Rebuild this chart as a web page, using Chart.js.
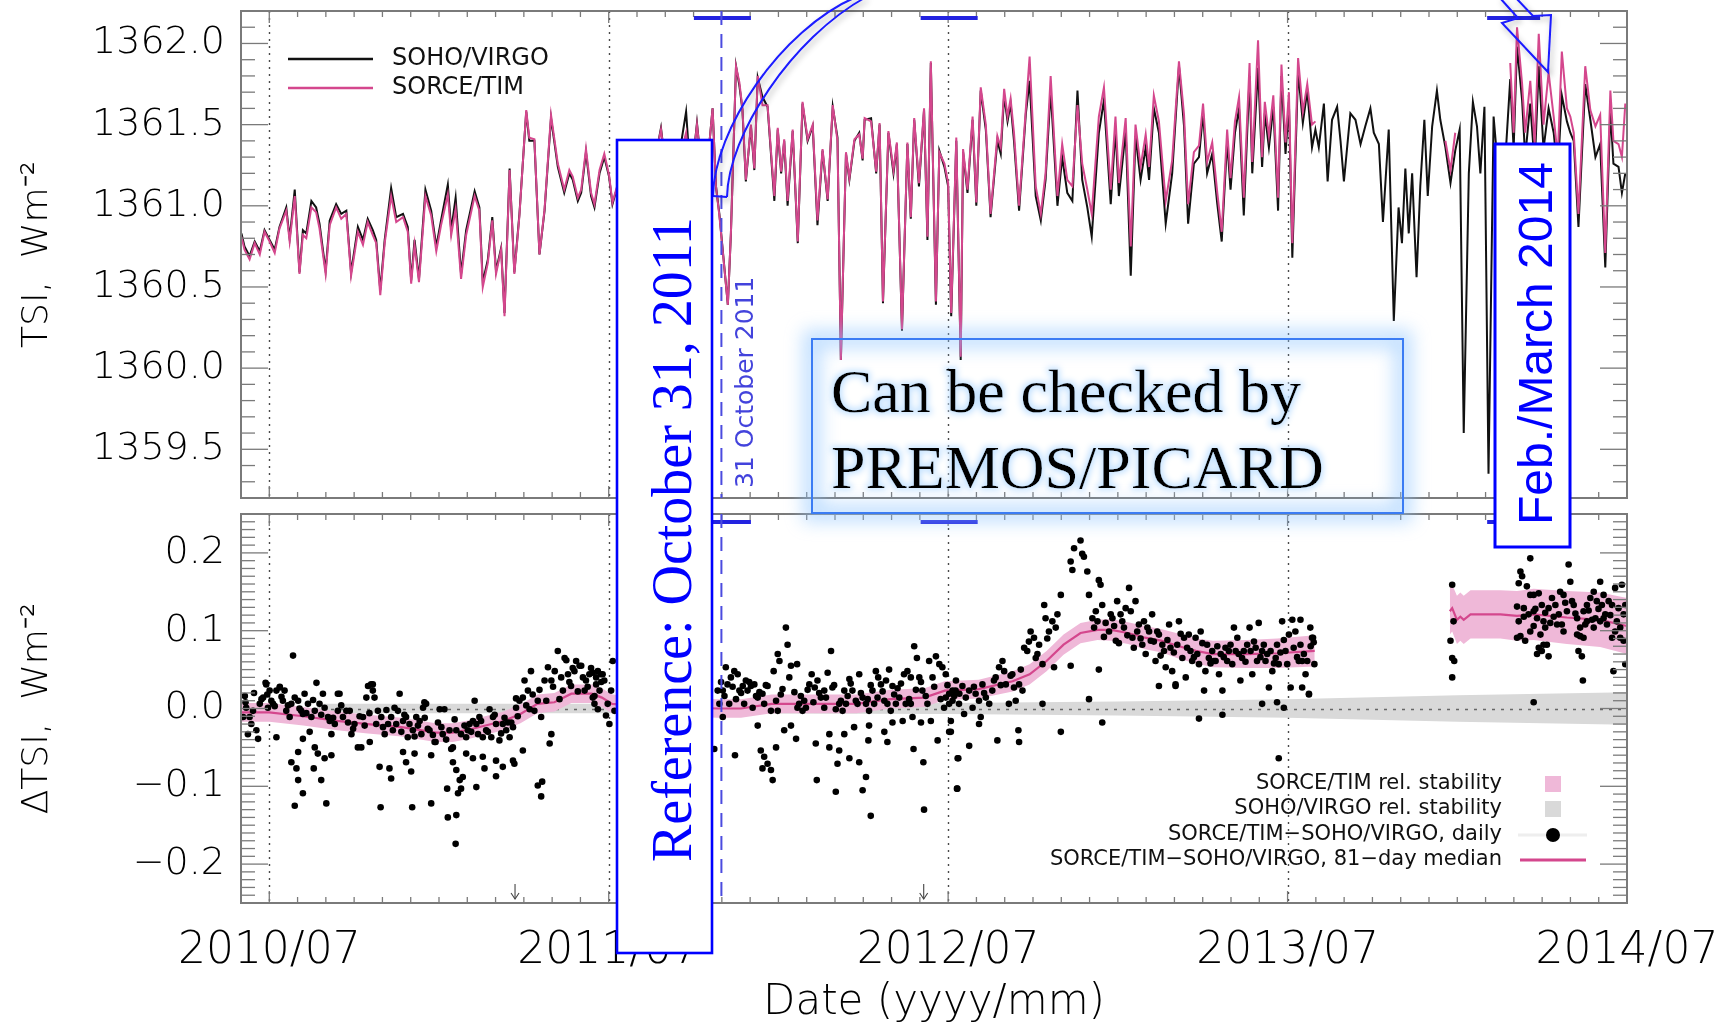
<!DOCTYPE html>
<html>
<head>
<meta charset="utf-8">
<title>TSI SOHO/VIRGO vs SORCE/TIM</title>
<script src="https://cdn.jsdelivr.net/npm/chart.js@4.4.1/dist/chart.umd.min.js"></script>
<style>
  html, body { margin: 0; padding: 0; background: #fff; }
  #wrap { position: relative; width: 1721px; height: 1024px; overflow: hidden; }
  .box { position: absolute; left: 0; width: 1721px; }
  #overlay { position: absolute; left: 0; top: 0; pointer-events: none; }
</style>
</head>
<body>
<div id="wrap">
  <div class="box" style="top:0;height:510px"><canvas id="tsi"></canvas></div>
  <div class="box" style="top:505px;height:519px"><canvas id="dtsi"></canvas></div>
  <svg id="overlay" width="1721" height="1024" viewBox="0 0 1721 1024">
    <defs>
      <filter id="blur8" x="-10%" y="-30%" width="120%" height="160%">
        <feGaussianBlur stdDeviation="9"/>
      </filter>
      <filter id="tglow" x="-5%" y="-40%" width="110%" height="180%">
        <feMorphology in="SourceAlpha" operator="dilate" radius="1.5" result="d"/>
        <feGaussianBlur in="d" stdDeviation="3" result="b"/>
        <feFlood flood-color="#c4e2ff"/>
        <feComposite in2="b" operator="in" result="g"/>
        <feMerge><feMergeNode in="g"/><feMergeNode in="SourceGraphic"/></feMerge>
      </filter>
      <filter id="shadow" x="-50%" y="-50%" width="200%" height="200%">
        <feGaussianBlur in="SourceAlpha" stdDeviation="3" result="s"/>
        <feOffset in="s" dx="2" dy="3" result="o"/>
        <feComponentTransfer in="o" result="t"><feFuncA type="linear" slope="0.35"/></feComponentTransfer>
        <feMerge><feMergeNode in="t"/><feMergeNode in="SourceGraphic"/></feMerge>
      </filter>
    </defs>

    <!-- curved arrow leaving the reference box, arriving at Feb./March 2014 -->
    <g fill="none" stroke="#1a1aff" stroke-width="2" filter="url(#shadow)">
      <path d="M713,196 C714,130 780,30 856,-3"/>
      <path d="M727,197 C728,135 792,38 866,-3"/>
      <path d="M713,196 L727,197"/>
      <path d="M1500,-2 L1518,18 L1502,23 L1548,72 L1551,15 L1533,16 L1516,-2"/>
    </g>

    <text transform="translate(753,488) rotate(-90)" font-family="DejaVu Sans, sans-serif" font-size="25" fill="#4343dc">31 October 2011</text>

    <rect x="617" y="140" width="95" height="813" fill="#fff" stroke="#0000ff" stroke-width="2.6"/>
    <text transform="translate(691,862) rotate(-90)" font-family="Liberation Serif, Times New Roman, serif" font-size="56" fill="#0000ff">Reference: October 31, 2011</text>

    <rect x="812" y="339" width="591" height="174" fill="none" stroke="#8ec5ff" stroke-width="18" opacity="0.55" filter="url(#blur8)"/>
    <rect x="812" y="339" width="591" height="174" fill="none" stroke="#3b7cf4" stroke-width="2"/>
    <g font-family="Liberation Serif, Times New Roman, serif" font-size="62" fill="#000" filter="url(#tglow)">
      <text x="831" y="412">Can be checked by</text>
      <text x="831" y="488">PREMOS/PICARD</text>
    </g>

    <rect x="1495" y="144" width="75" height="403" fill="#fff" stroke="#0000ff" stroke-width="3"/>
    <text transform="translate(1552,525) rotate(-90)" font-family="Liberation Sans, Arial, sans-serif" font-size="48" fill="#0000ff">Feb./March 2014</text>
  </svg>
</div>

<script>
// ---- axis ticks ----
const xTickValues = [2010.5, 2011.5, 2012.5, 2013.5, 2014.5];
const xTickLabels = ['2010/07', '2011/07', '2012/07', '2013/07', '2014/07'];
const tsiTickValues = [1359.5, 1360.0, 1360.5, 1361.0, 1361.5, 1362.0];
const dtsiTickValues = [-0.2, -0.1, 0.0, 0.1, 0.2];
const dtsiTickLabels = ['\u22120.2', '\u22120.1', '0.0', '0.1', '0.2'];

// ---- marked periods and dates ----
const periodStarts = [2011.751, 2012.419, 2014.088];
const periodEnds = [2011.919, 2012.587, 2014.244];
const referenceDate = 2011.832;
const arrowDates = [2011.224, 2012.428];

// ---- top panel: daily TSI (decimal year) ----
const tsiYears = [
  2010.418,2010.427,2010.442,2010.457,2010.472,2010.486,2010.501,2010.516,2010.530,2010.550,
  2010.560,2010.575,2010.589,2010.599,2010.609,2010.624,2010.638,2010.648,2010.666,2010.678,
  2010.697,2010.712,2010.727,2010.741,2010.761,2010.776,2010.790,2010.805,2010.815,2010.827,
  2010.840,2010.859,2010.874,2010.894,2010.908,2010.918,2010.928,2010.941,2010.960,2010.977,
  2010.992,2011.006,2011.026,2011.036,2011.049,2011.065,2011.080,2011.105,2011.119,2011.129,
  2011.144,2011.157,2011.168,2011.183,2011.193,2011.208,2011.222,2011.237,2011.257,2011.266,
  2011.281,2011.296,2011.311,2011.330,2011.350,2011.369,2011.384,2011.394,2011.409,2011.419,
  2011.433,2011.448,2011.458,2011.473,2011.487,2011.501,2011.511,
  2011.530,2011.546,2011.575,2011.605,2011.629,2011.654,2011.678,2011.703,2011.728,2011.742,
  2011.760,2011.782,2011.806,2011.816,2011.826,2011.851,2011.860,2011.875,2011.885,2011.894,
  2011.904,2011.919,2011.929,2011.939,2011.953,2011.968,2011.988,2011.998,2012.008,2012.017,
  2012.027,2012.042,2012.057,2012.071,2012.086,2012.101,2012.115,2012.130,2012.145,2012.160,
  2012.174,2012.184,2012.199,2012.209,2012.224,2012.238,2012.248,2012.254,2012.273,2012.288,
  2012.298,2012.308,2012.324,2012.339,2012.349,2012.364,2012.380,2012.390,2012.400,2012.414,
  2012.429,2012.439,2012.449,2012.464,2012.474,2012.489,2012.500,2012.509,2012.524,2012.537,
  2012.544,2012.557,2012.572,2012.583,2012.596,2012.611,2012.625,2012.645,2012.655,2012.665,
  2012.675,2012.684,2012.694,2012.709,2012.729,2012.740,2012.758,2012.773,2012.787,2012.802,
  2012.822,2012.836,2012.851,2012.866,2012.881,2012.895,2012.910,2012.923,2012.944,2012.959,
  2012.979,2012.993,2013.003,2013.023,2013.038,2013.052,2013.067,2013.082,2013.092,2013.106,
  2013.121,2013.141,2013.160,2013.180,2013.195,2013.207,2013.224,2013.239,2013.251,2013.263,
  2013.278,2013.293,2013.306,2013.322,2013.332,2013.345,2013.357,2013.371,2013.388,2013.396,
  2013.413,2013.425,2013.433,2013.445,2013.458,2013.472,2013.482,2013.494,2013.504,2013.514,
  2013.531,2013.545,2013.558,2013.572,2013.582,2013.592,2013.607,2013.618,2013.631,2013.646,
  2013.656,2013.666,2013.685,2013.700,2013.715,2013.729,2013.744,2013.754,2013.769,2013.781,
  2013.798,2013.813,2013.827,2013.837,2013.847,2013.857,2013.867,2013.880,2013.891,2013.903,
  2013.913,2013.926,2013.940,2013.950,2013.965,2013.980,2013.994,2014.007,2014.019,2014.034,
  2014.046,2014.058,2014.068,2014.080,2014.092,2014.107,2014.127,2014.142,2014.156,2014.166,
  2014.176,2014.191,2014.200,2014.215,2014.228,2014.240,2014.254,2014.269,2014.284,2014.296,
  2014.308,2014.323,2014.333,2014.343,2014.357,2014.377,2014.392,2014.407,2014.421,2014.436,
  2014.451,2014.460,2014.475,2014.485,2014.495
];
const virgoTSI = [
  1360.83,1360.75,1360.69,1360.78,1360.72,1360.85,1360.79,1360.73,1360.87,1360.99,
  1360.80,1361.10,1360.59,1360.85,1360.83,1361.03,1360.99,1360.89,1360.60,1360.91,
  1361.01,1360.95,1360.97,1360.59,1360.87,1360.79,1360.92,1360.85,1360.79,1360.48,
  1360.79,1361.11,1360.93,1360.95,1360.87,1360.54,1360.79,1360.55,1361.10,1360.97,
  1360.75,1360.91,1361.13,1360.85,1361.05,1360.58,1360.85,1361.09,1360.99,1360.53,
  1360.67,1360.93,1360.60,1360.74,1360.34,1361.23,1360.59,1360.95,1361.58,1361.40,
  1361.40,1360.70,1360.97,1361.54,1361.24,1361.08,1361.20,1361.16,1361.03,1361.08,
  1361.33,1361.06,1360.99,1361.20,1361.30,1361.18,1361.01,
  1361.15,1361.05,1361.25,1361.00,1361.20,1361.48,1361.05,1361.25,1361.58,1361.15,
  1361.51,1361.05,1361.60,1361.12,1360.95,1360.39,1360.83,1361.86,1361.74,1361.59,
  1361.15,1361.49,1361.22,1361.79,1361.67,1361.61,1361.03,1361.47,1361.20,1361.40,
  1361.00,1361.46,1360.77,1361.63,1361.40,1361.49,1360.88,1361.34,1361.03,1361.61,
  1361.42,1360.05,1361.32,1361.16,1361.40,1361.45,1361.28,1361.53,1361.54,1361.20,
  1361.50,1360.40,1361.45,1361.20,1361.38,1360.23,1361.38,1360.92,1361.53,1361.12,
  1361.59,1360.79,1361.88,1360.39,1361.34,1361.24,1361.12,1360.32,1361.40,1360.05,
  1361.33,1361.08,1361.53,1361.00,1361.71,1361.47,1360.93,1361.40,1361.32,1361.68,
  1361.52,1361.63,1361.40,1360.97,1361.57,1361.77,1361.06,1360.91,1361.16,1361.71,
  1361.00,1361.30,1361.08,1361.03,1361.71,1361.16,1360.99,1360.81,1361.45,1361.65,
  1361.01,1361.47,1361.06,1361.46,1360.57,1361.43,1361.16,1361.36,1361.16,1361.60,
  1361.45,1360.89,1361.20,1361.86,1361.49,1360.89,1361.26,1361.30,1361.57,1361.20,
  1361.32,1361.01,1360.78,1361.40,1361.10,1361.45,1361.60,1360.94,1361.80,1361.20,
  1361.85,1361.24,1361.57,1361.36,1361.61,1360.97,1361.80,1361.32,1361.63,1360.68,
  1361.83,1361.51,1361.71,1361.36,1361.47,1361.36,1361.63,1361.15,1361.53,1361.61,
  1361.40,1361.15,1361.57,1361.53,1361.38,1361.49,1361.60,1361.45,1361.38,1360.90,
  1361.47,1360.29,1360.99,1360.77,1361.23,1360.83,1361.20,1360.56,1361.12,1361.53,
  1361.06,1361.49,1361.71,1361.53,1361.36,1361.14,1361.34,1361.47,1359.60,1361.20,
  1361.64,1361.49,1361.20,1361.61,1359.35,1361.55,1361.05,1361.30,1361.78,1361.35,
  1361.98,1361.65,1361.30,1361.63,1361.25,1361.86,1361.35,1361.60,1361.45,1361.20,
  1361.68,1361.52,1361.45,1361.40,1360.87,1361.75,1361.53,1361.30,1361.38,1360.62,
  1361.59,1361.26,1361.24,1361.08,1361.20
];
const timTSI = [
  1360.81,1360.73,1360.67,1360.77,1360.70,1360.84,1360.78,1360.71,1360.86,1360.97,
  1360.78,1361.06,1360.58,1360.82,1360.80,1360.99,1360.96,1360.86,1360.58,1360.88,
  1360.99,1360.92,1360.95,1360.57,1360.84,1360.76,1360.90,1360.82,1360.77,1360.45,
  1360.77,1361.06,1360.90,1360.93,1360.84,1360.52,1360.76,1360.53,1361.06,1360.94,
  1360.72,1360.88,1361.07,1360.82,1360.98,1360.55,1360.82,1361.06,1360.97,1360.50,
  1360.65,1360.91,1360.58,1360.73,1360.32,1361.22,1360.58,1360.94,1361.59,1361.42,
  1361.41,1360.70,1360.98,1361.56,1361.26,1361.10,1361.22,1361.18,1361.05,1361.10,
  1361.35,1361.08,1361.01,1361.22,1361.32,1361.19,1361.02,
  1361.16,1361.06,1361.26,1361.01,1361.21,1361.47,1361.06,1361.25,1361.45,1361.15,
  1361.50,1361.05,1361.60,1361.12,1360.94,1360.39,1360.83,1361.86,1361.76,1361.60,
  1361.16,1361.50,1361.23,1361.80,1361.62,1361.62,1361.06,1361.48,1361.21,1361.41,
  1361.03,1361.47,1360.78,1361.64,1361.41,1361.50,1360.91,1361.35,1361.04,1361.62,
  1361.40,1360.05,1361.33,1361.17,1361.41,1361.44,1361.29,1361.54,1361.52,1361.21,
  1361.51,1360.41,1361.46,1361.22,1361.39,1360.24,1361.39,1360.93,1361.54,1361.14,
  1361.60,1360.81,1361.89,1360.41,1361.33,1361.26,1361.14,1360.34,1361.42,1360.07,
  1361.35,1361.10,1361.55,1361.02,1361.73,1361.50,1360.95,1361.43,1361.36,1361.72,
  1361.55,1361.66,1361.45,1361.00,1361.60,1361.92,1361.12,1360.95,1361.20,1361.80,
  1361.06,1361.38,1361.16,1361.12,1361.62,1361.26,1361.10,1360.95,1361.55,1361.73,
  1361.10,1361.55,1361.14,1361.54,1360.75,1361.50,1361.24,1361.44,1361.24,1361.68,
  1361.52,1361.03,1361.28,1361.89,1361.56,1361.01,1361.33,1361.37,1361.63,1361.27,
  1361.39,1361.08,1360.84,1361.47,1361.17,1361.52,1361.67,1361.05,1361.88,1361.27,
  1362.02,1361.30,1361.64,1361.43,1361.68,1361.05,1361.87,1361.39,1361.70,1360.77,
  1361.91,1361.58,1361.75,1361.50,1361.52,null,null,null,null,null,
  null,null,null,null,null,null,null,null,null,null,
  null,null,null,null,null,null,null,null,null,null,
  null,null,null,null,1361.40,1361.22,1361.45,null,null,null,
  null,null,null,null,null,null,null,null,1361.88,1361.45,
  1362.10,1361.75,1361.45,1361.77,1361.38,1362.06,1361.50,1361.82,1361.55,1361.30,
  1361.95,1361.60,1361.55,1361.45,1360.95,1361.86,1361.59,1361.49,1361.56,1360.71,
  1361.71,1361.40,1361.38,1361.30,1361.63
];

// ---- bottom panel: SORCE/TIM - SOHO/VIRGO, daily ----
const diffYears = [
  2010.570,2010.428,2010.432,2010.442,2010.447,2010.462,2010.467,2010.437,2010.482,2010.491,
  2010.501,2010.511,2010.521,2010.531,2010.540,2010.550,2010.560,2010.565,2010.575,2010.585,
  2010.594,2010.604,2010.614,2010.624,2010.634,2010.639,2010.648,2010.658,2010.663,2010.673,
  2010.683,2010.693,2010.702,2010.707,2010.717,2010.727,2010.742,2010.751,2010.761,2010.771,
  2010.776,2010.786,2010.791,2010.800,2010.805,2010.810,2010.820,2010.830,2010.840,2010.850,
  2010.859,2010.869,2010.879,2010.884,2010.894,2010.903,2010.913,2010.923,2010.933,2010.943,
  2010.953,2010.962,2010.972,2010.987,2011.002,2011.016,2011.031,2011.041,2011.051,2011.065,
  2011.080,2011.090,2011.100,2011.105,2011.110,2011.119,2011.129,2011.139,2011.149,2011.159,
  2011.168,2011.178,2011.188,2011.198,2011.208,2011.218,2011.227,2011.237,2011.247,2011.252,
  2011.262,2011.271,2011.281,2011.291,2011.301,2011.311,2011.321,2011.331,2011.341,2011.350,
  2011.360,2011.370,2011.380,2011.389,2011.399,2011.404,2011.414,2011.424,2011.433,2011.443,
  2011.453,2011.463,2011.473,2011.482,
  2010.565,2010.580,2010.585,2010.585,2010.599,2010.575,2010.631,2010.634,2010.643,2010.653,
  2010.663,2010.668,2010.683,2010.521,2010.599,2010.619,2010.796,2010.825,2010.854,2010.859,
  2010.828,2010.894,2010.903,2010.918,2010.921,2010.928,2010.977,2010.977,2010.990,2011.024,
  2011.036,2011.041,2011.051,2011.061,2011.070,2011.026,2011.051,2011.049,2011.056,2011.065,
  2011.080,2011.110,2011.100,2011.129,2011.134,2011.168,2011.168,2011.188,2011.218,2011.222,
  2011.247,2011.291,2011.301,2011.304,2011.326,2011.331,
  2010.489,2010.531,2010.702,2010.805,2010.957,2011.227,2011.375,2011.419,
  2010.423,2010.452,2010.472,2010.496,2010.506,2010.545,2010.599,2010.678,2010.737,2010.815,
  2010.864,2010.908,2010.948,2011.011,2011.085,2011.115,2011.154,2011.203,2011.267,2011.316,
  2011.365,2011.429,2011.468,
  2010.430,2010.455,2010.477,2010.494,2010.516,2010.536,2010.555,2010.589,2010.609,2010.629,
  2010.653,2010.688,2010.712,2010.732,2010.747,2010.766,2010.781,2010.795,2010.835,2010.845,
  2010.874,2010.889,2010.898,2010.928,2010.938,2010.958,2010.967,2010.982,2010.997,2011.007,
  2011.021,2011.046,2011.075,2011.095,2011.124,2011.144,2011.164,2011.183,2011.193,2011.213,
  2011.232,2011.257,2011.276,2011.296,2011.336,2011.355,2011.384,2011.394,2011.409,2011.438,
  2011.448,2011.458,2011.478,
  2011.453,2011.463,2011.477,2011.487,2011.497,2011.507,2011.512,2011.458,2011.468,2011.492,
  2011.502,2011.517,2011.821,2011.826,2011.836,2011.845,2011.850,2011.860,2011.870,2011.880,
  2011.885,2011.895,2011.904,2011.909,2011.919,2011.929,2011.939,2011.944,2011.953,2011.958,
  2011.968,2011.978,2011.986,2011.993,2011.998,2012.003,2012.012,2012.022,2012.027,2012.037,
  2012.047,2012.055,2012.061,2012.071,2012.081,2012.091,2012.098,2012.107,2012.115,2012.125,
  2012.135,2012.145,2012.155,2012.159,2012.169,2012.179,2012.189,2012.199,2012.209,2012.218,
  2012.228,2012.238,2012.248,2012.258,2012.267,2012.277,2012.287,2012.294,2012.302,2012.312,
  2012.321,2012.326,2012.336,2012.346,2012.356,2012.370,2012.380,2012.390,2012.400,2012.408,
  2012.415,2012.424,2012.434,2012.444,2012.454,2012.464,2012.474,2012.483,2012.493,2012.503,
  2012.513,2012.523,2012.533,
  2011.811,2011.872,2011.939,2011.948,2011.958,2011.968,2011.978,2011.983,2011.953,2011.993,
  2012.017,2012.037,2012.052,2012.113,2012.110,2012.150,2012.150,2012.169,2012.174,2012.179,
  2012.194,2012.209,2012.223,2012.238,2012.248,2012.258,2012.265,2012.272,2012.267,2012.312,
  2012.321,2012.336,2012.366,2012.395,2012.398,2012.420,2012.427,2012.429,2012.449,2012.469,
  2012.503,2012.528,2012.526,2012.508,2012.390,
  2011.836,2011.855,2011.899,2011.924,2011.998,2012.056,2012.076,2012.135,2012.184,2012.194,
  2012.233,2012.282,2012.331,2012.375,2012.439,2012.488,
  2011.831,2011.841,2011.865,2011.875,2011.890,2011.914,2011.934,2011.963,2012.007,2012.032,
  2012.066,2012.086,2012.103,2012.120,2012.140,2012.164,2012.204,2012.213,2012.243,2012.263,
  2012.272,2012.292,2012.307,2012.317,2012.341,2012.351,2012.361,2012.385,2012.405,2012.420,
  2012.459,2012.478,2012.498,2012.518,
  2012.493,2012.503,2012.513,2012.522,2012.532,2012.542,2012.547,2012.552,2012.562,2012.572,
  2012.581,2012.591,2012.596,2012.601,2012.611,2012.621,2012.630,2012.640,2012.650,2012.660,
  2012.665,2012.670,2012.679,2012.689,2012.694,2012.699,2012.709,2012.719,2012.724,2012.733,
  2012.743,2012.753,2012.758,2012.768,2012.778,2012.783,2012.787,2012.797,2012.807,2012.812,
  2012.822,2012.832,2012.861,2012.866,2012.871,2012.890,2012.895,2012.900,2012.910,2012.915,
  2012.925,2012.935,2012.944,2012.949,2012.954,2012.964,2012.974,2012.984,2012.994,2012.998,
  2013.008,2013.023,2013.033,2013.043,2013.052,2013.062,2013.072,2013.082,2013.092,2013.101,
  2013.111,2013.121,2013.131,2013.141,2013.151,2013.160,2013.170,2013.180,2013.190,2013.200,
  2013.209,2013.219,2013.229,2013.239,2013.244,2013.254,2013.258,2013.268,2013.278,2013.288,
  2013.298,2013.308,2013.317,2013.327,2013.337,2013.342,2013.352,2013.361,2013.371,2013.381,
  2013.388,2013.396,2013.406,2013.415,2013.425,2013.435,2013.445,2013.455,2013.465,2013.474,
  2013.484,2013.494,2013.504,2013.514,2013.523,2013.533,2013.543,2013.553,2013.563,2013.572,
  2012.508,2012.530,2012.527,2012.562,2012.591,2012.645,2012.707,2012.709,2012.778,2012.832,
  2012.861,2012.915,2012.944,2012.954,2013.121,2013.170,2013.239,2013.308,2013.425,2013.469,
  2013.474,2013.489,2013.509,
  2012.940,2012.979,2013.018,2013.038,2013.057,2013.077,2013.097,2013.116,2013.136,2013.155,
  2013.175,2013.195,2013.214,2013.234,2013.263,2013.283,2013.303,2013.322,2013.347,2013.366,
  2013.391,2013.410,2013.430,2013.450,2013.469,2013.499,2013.518,2013.538,2013.558,
  2012.576,2012.606,2012.635,2012.655,2012.684,2012.714,2012.738,2012.763,2012.792,2012.817,
  2012.930,2012.959,2012.989,2013.003,2013.013,2013.028,2013.047,2013.067,2013.087,2013.106,
  2013.126,2013.146,2013.165,2013.185,2013.204,2013.224,2013.249,2013.273,2013.293,2013.312,
  2013.332,2013.356,2013.376,2013.401,2013.420,2013.440,2013.460,2013.479,2013.489,2013.528,
  2013.548,2013.568,
  2013.538,2013.543,2013.567,2013.575,2013.577,2013.579,2013.563,2013.985,2013.989,2013.980,
  2013.985,2013.991,2013.985,2014.215,2014.186,2014.191,2014.181,2014.205,2014.225,2014.240,
  2014.215,2014.176,2014.196,2014.210,2014.225,2014.235,2014.249,2014.259,2014.269,2014.279,
  2014.289,2014.299,2014.303,2014.313,2014.323,2014.328,2014.333,2014.338,2014.343,2014.353,
  2014.362,2014.372,2014.377,2014.382,2014.392,2014.402,2014.407,2014.411,2014.421,2014.426,
  2014.431,2014.436,2014.446,2014.456,2014.465,2014.475,2014.485,2014.490,2014.495,2014.176,
  2014.186,2014.200,2014.215,2014.225,2014.240,2014.249,2014.264,2014.269,2014.245,2014.259,
  2014.274,2014.294,2014.313,2014.353,2014.362,2014.372,2014.357,2014.367,2014.382,2014.402,
  2014.421,2014.431,2014.441,2014.456,2014.465,2014.480,2014.490,2014.460,2014.370,2014.225,
  2014.235,2014.254,2014.495,
  2014.181,2014.196,2014.230,2014.254,2014.284,2014.308,2014.318,2014.348,2014.387,2014.397,
  2014.416,2014.451,2014.470,2014.480
];
const diffValues = [
  0.068,0.016,0.001,-0.011,-0.020,-0.028,-0.039,-0.033,0.014,0.031,
  0.023,0.006,0.023,0.027,0.010,-0.003,-0.011,0.006,0.014,0.010,
  -0.003,0.019,0.006,-0.011,-0.003,0.033,0.006,0.019,0.001,-0.011,
  -0.033,-0.020,-0.003,0.019,-0.011,-0.003,-0.033,-0.020,-0.050,-0.050,
  -0.011,0.014,0.029,0.031,0.023,0.014,-0.003,-0.011,-0.033,-0.020,
  -0.011,0.001,-0.003,0.019,-0.016,-0.011,-0.020,-0.028,-0.011,-0.016,
  0.001,0.006,-0.028,-0.043,-0.001,-0.001,-0.028,-0.050,-0.028,-0.033,
  -0.037,-0.020,-0.016,0.010,-0.020,-0.011,-0.037,-0.028,-0.001,-0.011,
  -0.020,-0.041,-0.020,-0.028,-0.037,-0.024,0.001,0.010,0.014,0.036,
  0.023,0.048,-0.003,0.010,-0.011,0.036,0.053,0.036,0.048,0.074,
  0.040,0.065,0.044,0.029,0.048,0.061,0.055,0.040,0.036,0.044,
  0.014,0.031,0.023,0.044,
  -0.069,-0.077,-0.056,-0.092,-0.109,-0.125,-0.077,-0.050,-0.058,-0.092,
  -0.064,-0.122,-0.060,-0.037,-0.039,-0.030,-0.043,-0.075,-0.077,-0.090,
  -0.127,-0.056,-0.069,-0.081,-0.127,-0.058,-0.122,-0.060,-0.043,-0.103,
  -0.052,-0.069,-0.079,-0.092,-0.088,-0.140,-0.137,-0.174,-0.109,-0.103,
  -0.058,-0.101,-0.064,-0.062,-0.077,-0.067,-0.087,-0.075,-0.067,-0.071,
  -0.054,-0.099,-0.113,-0.094,-0.045,-0.033,
  0.033,0.028,0.019,0.031,0.008,0.013,0.062,0.055,
  -0.011,-0.003,0.006,0.001,0.010,0.023,-0.007,-0.016,-0.003,-0.020,
  -0.028,-0.037,-0.033,-0.033,-0.028,-0.033,-0.037,-0.018,-0.001,0.010,
  0.023,0.023,0.048,
  0.008,0.020,0.012,0.018,0.003,0.015,0.004,0.000,-0.006,0.011,
  -0.008,-0.012,0.004,-0.018,-0.026,-0.010,-0.022,-0.006,-0.024,-0.002,
  -0.020,-0.030,-0.008,-0.036,-0.022,-0.012,-0.026,-0.034,-0.018,-0.024,
  -0.040,-0.014,-0.022,-0.030,-0.016,-0.030,-0.008,-0.032,-0.012,-0.018,
  -0.010,0.004,0.018,0.024,0.028,0.012,0.034,0.052,0.022,0.028,
  0.052,0.016,0.034,
  0.046,0.040,0.044,0.036,0.006,0.023,0.061,0.006,-0.001,-0.009,
  -0.020,-0.003,0.023,0.006,-0.011,0.053,0.031,0.040,0.048,0.044,
  0.023,0.029,0.036,0.023,0.029,0.031,0.014,0.021,0.019,0.006,
  0.029,-0.003,0.048,0.010,0.070,0.061,0.025,0.104,0.082,0.055,
  0.021,0.057,0.006,-0.003,0.001,0.031,0.044,0.027,0.036,0.014,
  0.023,0.046,0.074,0.027,-0.001,0.006,-0.003,0.006,0.038,0.023,
  0.010,0.044,0.014,0.006,-0.003,0.023,0.048,0.040,0.031,0.010,
  0.006,0.050,0.029,0.006,0.014,0.044,0.048,0.040,0.080,0.065,
  0.040,0.023,0.016,0.061,0.040,0.067,0.057,0.053,0.014,0.006,
  0.023,0.036,0.019,
  -0.052,-0.060,-0.022,-0.054,-0.062,-0.071,-0.079,-0.092,-0.077,-0.050,
  -0.028,-0.022,-0.039,-0.092,-0.045,-0.033,-0.050,-0.107,-0.071,-0.054,
  -0.033,-0.064,-0.024,-0.069,-0.105,-0.088,-0.041,-0.138,-0.022,-0.030,
  -0.043,-0.018,-0.016,-0.011,-0.052,-0.018,-0.069,-0.130,-0.016,-0.041,
  -0.030,-0.064,-0.103,-0.016,0.006,
  0.023,0.006,0.006,0.001,-0.003,0.001,0.010,0.001,0.010,0.023,
  0.006,0.006,-0.003,0.006,0.006,0.001,
  0.034,0.016,0.028,0.012,0.020,0.034,0.016,0.030,0.018,0.040,
  0.016,0.024,0.008,0.020,0.014,0.030,0.016,0.032,0.020,0.012,
  0.030,0.014,0.022,0.036,0.018,0.026,0.032,0.012,0.024,0.034,
  0.028,0.012,0.030,0.016,
  0.044,0.019,0.010,0.023,0.006,0.029,-0.007,0.014,0.023,0.001,
  0.019,0.010,-0.011,0.031,0.014,0.006,0.023,0.040,0.053,0.061,
  0.048,0.031,0.006,0.044,0.027,0.010,0.031,0.023,0.078,0.074,
  0.099,0.091,0.065,0.082,0.057,0.133,0.116,0.099,0.112,0.053,
  0.121,0.146,0.189,0.178,0.206,0.216,0.199,0.195,0.176,0.146,
  0.116,0.125,0.165,0.159,0.133,0.110,0.099,0.116,0.087,0.138,
  0.121,0.129,0.155,0.091,0.138,0.108,0.082,0.070,0.099,0.121,
  0.061,0.095,0.082,0.053,0.108,0.048,0.031,0.112,0.065,0.040,
  0.095,0.061,0.091,0.057,0.099,0.023,0.048,0.065,0.074,0.061,
  0.044,0.023,0.078,0.074,0.057,0.104,0.091,0.036,0.074,0.082,
  0.104,0.044,0.078,0.110,0.074,0.061,0.027,0.048,0.065,0.057,
  0.112,0.074,0.095,0.114,0.099,0.061,0.027,0.044,0.019,0.091,
  -0.030,-0.064,-0.103,-0.048,-0.020,-0.041,-0.028,-0.043,0.006,-0.030,
  0.055,0.012,0.050,-0.018,0.029,0.029,-0.013,-0.008,0.006,0.008,
  -0.064,0.001,0.027,
  0.112,0.121,0.104,0.125,0.099,0.112,0.087,0.099,0.074,0.078,
  0.082,0.091,0.074,0.070,0.082,0.061,0.070,0.061,0.074,0.065,
  0.074,0.061,0.082,0.074,0.082,0.057,0.078,0.082,0.061,
  0.028,0.020,0.036,0.030,0.042,0.050,0.086,0.070,0.090,0.104,
  0.104,0.092,0.106,0.084,0.112,0.094,0.078,0.090,0.104,0.086,
  0.068,0.088,0.072,0.096,0.078,0.066,0.084,0.058,0.080,0.066,
  0.082,0.070,0.060,0.086,0.066,0.070,0.058,0.072,0.088,0.066,
  0.070,0.080,
  0.114,0.061,0.104,0.091,0.085,0.057,0.018,0.159,0.112,0.087,
  0.065,0.061,0.040,0.193,0.176,0.170,0.161,0.157,0.146,0.148,
  0.146,0.131,0.129,0.121,0.125,0.116,0.133,0.123,0.129,0.142,
  0.133,0.121,0.150,0.146,0.125,0.185,0.163,0.138,0.133,0.116,
  0.104,0.125,0.108,0.133,0.142,0.150,0.116,0.138,0.163,0.133,
  0.146,0.121,0.138,0.133,0.155,0.129,0.159,0.121,0.133,0.091,
  0.093,0.087,0.099,0.106,0.078,0.074,0.082,0.067,0.095,0.104,
  0.110,0.108,0.099,0.095,0.093,0.091,0.074,0.067,0.112,0.104,
  0.112,0.116,0.108,0.091,0.099,0.091,0.087,0.048,0.036,0.008,
  0.070,0.082,0.057,
  0.112,0.118,0.128,0.112,0.118,0.108,0.136,0.122,0.126,0.114,
  0.128,0.120,0.112,0.104
];

// ---- bottom panel: 81-day median and relative stability bands ----
const medianYears = [
  2010.418,2010.50,2010.60,2010.70,2010.79,2010.89,2010.99,2011.04,2011.09,2011.19,
  2011.24,2011.29,2011.34,2011.39,2011.45,2011.48,2011.51,2011.60,2011.70,2011.82,
  2011.89,2011.98,2012.08,2012.13,2012.23,2012.33,2012.43,2012.49,2012.59,2012.69,
  2012.74,2012.79,2012.84,2012.89,2012.94,2012.98,2013.03,2013.08,2013.13,2013.18,
  2013.23,2013.28,2013.38,2013.47,2013.58,2013.78,2013.978,2013.985,2013.999,2014.009,
  2014.019,2014.039,2014.127,2014.176,2014.225,2014.323,2014.421,2014.50
];
const medianValues = [
  -0.005,-0.005,-0.010,-0.016,-0.020,-0.024,-0.031,-0.031,-0.027,-0.016,
  -0.007,0.006,0.008,0.019,0.019,0.014,0.006,0.003,0.002,0.000,
  0.000,0.006,0.006,0.006,0.006,0.012,0.014,0.023,0.025,0.035,
  0.044,0.061,0.082,0.097,0.101,0.101,0.097,0.091,0.087,0.080,
  0.074,0.070,0.070,0.071,0.074,null,0.125,0.129,0.114,0.118,
  0.114,0.121,0.121,0.119,0.121,0.117,0.114,0.106
];
const timBandHalf = [
  0.012,0.012,0.012,0.012,0.012,0.012,0.012,0.012,0.012,0.012,
  0.012,0.012,0.012,0.012,0.012,0.012,0.012,0.012,0.012,0.012,
  0.012,0.012,0.012,0.012,0.012,0.012,0.012,0.012,0.012,0.013,
  0.013,0.013,0.013,0.013,0.013,0.014,0.014,0.015,0.015,0.016,
  0.016,0.017,0.018,0.019,0.020,null,0.030,0.030,0.031,0.031,
  0.031,0.031,0.031,0.032,0.033,0.034,0.035,0.036
];
const virgoBandYears = [2010.64, 2011.0, 2011.5, 2012.0, 2012.5, 2013.0, 2013.5, 2014.0, 2014.5];
const virgoBandHalf = [0.006, 0.006, 0.006, 0.0065, 0.007, 0.009, 0.012, 0.017, 0.021];

// ---- styling ----
const PINK = '#d4478d';
const PINK_BAND = '#efb8d8';
const GRAY_BAND = '#d9d9d9';
const FRAME = '#7a7a7a';
const BAR_BLUE = '#2323e0';
const X_MIN = 2010 + 5 / 12;
const X_MAX = 2014.5;

Chart.defaults.font.family = '"DejaVu Sans", sans-serif';
Chart.defaults.font.weight = '300';
Chart.defaults.color = '#000';

function seg(ctx, x1, y1, x2, y2) {
  ctx.beginPath(); ctx.moveTo(x1, y1); ctx.lineTo(x2, y2); ctx.stroke();
}

// IDL-style frame: inward ticks on all sides, dotted yearly grid, blue period marks
const framePlugin = {
  id: 'frame',
  beforeDatasetsDraw(chart, args, o) {
    const { ctx, chartArea: a, scales: { x } } = chart;
    ctx.save();
    ctx.strokeStyle = '#4a4a4a';
    ctx.lineWidth = 1.4;
    ctx.setLineDash([2, 5]);
    xTickValues.forEach(v => {
      const px = Math.round(x.getPixelForValue(v)) + 0.5;
      if (px > a.left + 2 && px < a.right - 2) seg(ctx, px, a.top, px, a.bottom);
    });
    ctx.restore();
  },
  afterDatasetDraw(chart, args, o) {
    if (o.zeroAfter !== args.index) return;
    const { ctx, chartArea: a, scales: { y } } = chart;
    const py = Math.round(y.getPixelForValue(0)) + 0.5;
    ctx.save();
    ctx.strokeStyle = '#666';
    ctx.lineWidth = 1.3;
    ctx.setLineDash([3, 6]);
    seg(ctx, a.left, py, a.right, py);
    ctx.restore();
  },
  afterDatasetsDraw(chart, args, o) {
    const { ctx, chartArea: a, scales: { x, y } } = chart;
    ctx.save();
    ctx.strokeStyle = FRAME;
    ctx.lineWidth = 1.3;
    for (let m = 5; m <= 54; m++) {
      const px = x.getPixelForValue(2010 + m / 12);
      const len = (m % 12 === 6) ? 12 : 6;
      seg(ctx, px, a.bottom, px, a.bottom - len);
      seg(ctx, px, a.top, px, a.top + len);
    }
    const n = Math.round((y.max - y.min) / o.yMinor);
    for (let i = 0; i <= n; i++) {
      const v = y.min + i * o.yMinor;
      const r = v / o.yMajor;
      const len = Math.abs(r - Math.round(r)) < 1e-6 ? 27 : 14;
      const py = y.getPixelForValue(v);
      seg(ctx, a.left, py, a.left + len, py);
      seg(ctx, a.right, py, a.right - len, py);
    }
    ctx.lineWidth = 2;
    ctx.strokeRect(a.left, a.top, a.right - a.left, a.bottom - a.top);

    // marked periods
    ctx.strokeStyle = BAR_BLUE;
    ctx.lineWidth = 4;
    periodStarts.forEach((s, i) => {
      seg(ctx, x.getPixelForValue(s), a.top + o.barOffset, x.getPixelForValue(periodEnds[i]), a.top + o.barOffset);
    });
    // reference date
    const rx = x.getPixelForValue(referenceDate);
    ctx.strokeStyle = '#4b4bdf';
    ctx.lineWidth = 2;
    ctx.setLineDash([14, 9]);
    seg(ctx, rx, a.top, rx, a.bottom);
    ctx.setLineDash([]);

    if (o.arrows) {
      ctx.strokeStyle = '#444';
      ctx.lineWidth = 1.1;
      arrowDates.forEach(d => {
        const px = x.getPixelForValue(d);
        seg(ctx, px, a.bottom - 19, px, a.bottom - 4);
        ctx.beginPath();
        ctx.moveTo(px - 4, a.bottom - 10); ctx.lineTo(px, a.bottom - 4); ctx.lineTo(px + 4, a.bottom - 10);
        ctx.stroke();
      });
    }

    ctx.textBaseline = 'middle';
    if (o.legend === 'top') {
      ctx.lineWidth = 2.5;
      ctx.strokeStyle = '#111'; seg(ctx, 288, 59, 373, 59);
      ctx.strokeStyle = PINK; seg(ctx, 288, 88, 373, 88);
      ctx.fillStyle = '#111';
      ctx.font = '24px "DejaVu Sans"';
      ctx.textAlign = 'left';
      ctx.fillText('SOHO/VIRGO', 392, 59);
      ctx.fillText('SORCE/TIM', 392, 88);
    }
    if (o.legend === 'bottom') {
      const rows = [279, 304, 330, 355];
      const texts = ['SORCE/TIM rel. stability', 'SOHO/VIRGO rel. stability',
        'SORCE/TIM\u2212SOHO/VIRGO, daily', 'SORCE/TIM\u2212SOHO/VIRGO, 81\u2212day median'];
      ctx.font = '21px "DejaVu Sans"';
      ctx.textAlign = 'right';
      ctx.fillStyle = '#111';
      texts.forEach((t, i) => ctx.fillText(t, 1502, rows[i]));
      ctx.fillStyle = PINK_BAND; ctx.fillRect(1545, rows[0] - 8, 16, 16);
      ctx.fillStyle = GRAY_BAND; ctx.fillRect(1545, rows[1] - 8, 16, 16);
      ctx.strokeStyle = '#eeeeee'; ctx.lineWidth = 3; seg(ctx, 1518, rows[2], 1587, rows[2]);
      ctx.fillStyle = '#000'; ctx.beginPath(); ctx.arc(1553, rows[2], 7, 0, Math.PI * 2); ctx.fill();
      ctx.strokeStyle = PINK; ctx.lineWidth = 3; seg(ctx, 1520, rows[3], 1586, rows[3]);
    }
    ctx.restore();
  }
};

const xScaleBase = {
  type: 'linear', min: X_MIN, max: X_MAX,
  grid: { display: false, drawTicks: false, tickLength: 0 },
  border: { display: false },
  afterBuildTicks: s => { s.ticks = xTickValues.map(v => ({ value: v })); }
};

new Chart(document.getElementById('tsi'), {
  type: 'line',
  data: {
    datasets: [
      { label: 'SORCE/TIM', data: tsiYears.map((x, i) => ({ x, y: timTSI[i] })),
        borderColor: PINK, borderWidth: 2, pointRadius: 0, tension: 0, spanGaps: false },
      { label: 'SOHO/VIRGO', data: tsiYears.map((x, i) => ({ x, y: virgoTSI[i] })),
        borderColor: '#111', borderWidth: 2, pointRadius: 0, tension: 0 }
    ]
  },
  options: {
    animation: false, responsive: true, maintainAspectRatio: false, devicePixelRatio: 1,
    layout: { padding: { left: 0, right: 94, top: 11, bottom: 0 } },
    plugins: {
      legend: { display: false }, tooltip: { enabled: false },
      frame: { yMinor: 0.1, yMajor: 0.5, barOffset: 7, legend: 'top' }
    },
    scales: {
      x: Object.assign({}, xScaleBase, {
        ticks: { display: false },
        afterFit: s => { s.height = 12; s.paddingLeft = 0; s.paddingRight = 0; }
      }),
      y: {
        min: 1359.2, max: 1362.2,
        grid: { display: false, drawTicks: false, tickLength: 0 },
        border: { display: false },
        afterBuildTicks: s => { s.ticks = tsiTickValues.map(v => ({ value: v })); },
        ticks: { font: { size: 38 }, padding: 16, callback: v => v.toFixed(1) },
        title: { display: true, text: 'TSI,  Wm\u207B\u00B2', font: { size: 36 }, padding: { top: 16, bottom: 0 } },
        afterFit: s => { s.width = 241; s.paddingTop = 0; s.paddingBottom = 0; }
      }
    }
  },
  plugins: [framePlugin]
});

const timLow = medianYears.map((x, i) => ({ x, y: medianValues[i] === null ? null : medianValues[i] - timBandHalf[i] }));
const timHigh = medianYears.map((x, i) => ({ x, y: medianValues[i] === null ? null : medianValues[i] + timBandHalf[i] }));

new Chart(document.getElementById('dtsi'), {
  type: 'line',
  data: {
    datasets: [
      { label: 'daily', data: diffYears.map((x, i) => ({ x, y: diffValues[i] })), showLine: false,
        pointRadius: 3.3, pointBackgroundColor: '#000', pointBorderColor: '#000', pointBorderWidth: 0, order: 0 },
      { label: 'median', data: medianYears.map((x, i) => ({ x, y: medianValues[i] })),
        borderColor: PINK, borderWidth: 2.2, pointRadius: 0, tension: 0, spanGaps: false, order: 1 },
      { label: 'timLow', data: timLow, borderColor: 'transparent', borderWidth: 0, pointRadius: 0, spanGaps: false, order: 2 },
      { label: 'timHigh', data: timHigh, borderColor: 'transparent', borderWidth: 0, pointRadius: 0, spanGaps: false,
        fill: { target: 2 }, backgroundColor: PINK_BAND, order: 2 },
      { label: 'virgoLow', data: virgoBandYears.map((x, i) => ({ x, y: -virgoBandHalf[i] })),
        borderColor: 'transparent', borderWidth: 0, pointRadius: 0, order: 3 },
      { label: 'virgoHigh', data: virgoBandYears.map((x, i) => ({ x, y: virgoBandHalf[i] })),
        borderColor: 'transparent', borderWidth: 0, pointRadius: 0, fill: { target: 4 }, backgroundColor: GRAY_BAND, order: 3 }
    ]
  },
  options: {
    animation: false, responsive: true, maintainAspectRatio: false, devicePixelRatio: 1,
    layout: { padding: { left: 0, right: 94, top: 9, bottom: 0 } },
    plugins: {
      legend: { display: false }, tooltip: { enabled: false },
      frame: { yMinor: 0.01, yMajor: 0.1, barOffset: 8, legend: 'bottom', zeroAfter: 4, arrows: true }
    },
    scales: {
      x: Object.assign({}, xScaleBase, {
        ticks: { font: { size: 44 }, padding: 22, maxRotation: 0, autoSkip: false,
          callback: (v, i) => xTickLabels[i] },
        title: { display: true, text: 'Date (yyyy/mm)', font: { size: 42 }, padding: { top: 0, bottom: -4 } },
        afterFit: s => { s.height = 121; s.paddingLeft = 0; s.paddingRight = 0; }
      }),
      y: {
        min: -0.25, max: 0.25,
        grid: { display: false, drawTicks: false, tickLength: 0 },
        border: { display: false },
        afterBuildTicks: s => { s.ticks = dtsiTickValues.map(v => ({ value: v })); },
        ticks: { font: { size: 38 }, padding: 16, callback: (v, i) => dtsiTickLabels[i] },
        title: { display: true, text: '\u0394TSI,  Wm\u207B\u00B2', font: { size: 36 }, padding: { top: 16, bottom: 0 } },
        afterFit: s => { s.width = 241; s.paddingTop = 0; s.paddingBottom = 0; }
      }
    }
  },
  plugins: [framePlugin]
});
</script>
</body>
</html>
